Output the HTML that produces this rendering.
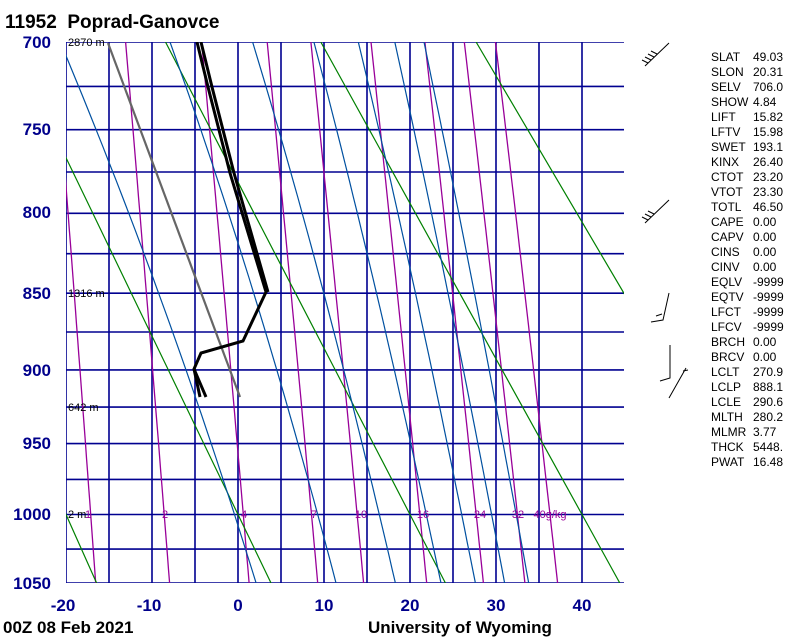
<!DOCTYPE html>
<html><head><meta charset="utf-8"><style>
html,body{margin:0;padding:0;background:#fff;}
svg{display:block;font-family:"Liberation Sans",Arial,sans-serif;}
</style></head><body>
<svg id="s" width="800" height="640" viewBox="0 0 800 640" xmlns="http://www.w3.org/2000/svg">
<defs><clipPath id="c"><rect x="66" y="42" width="558" height="541"/></clipPath></defs>
<g id="grid" clip-path="url(#c)"></g>
<g id="lines" clip-path="url(#c)"></g>
<text x="5" y="28" font-size="19" font-weight="bold" fill="#000">11952&#160;&#160;Poprad-Ganovce</text>
<g font-size="17" font-weight="bold" fill="#00008b" text-anchor="end">
<text x="51" y="48">700</text><text x="51" y="135">750</text><text x="51" y="218">800</text><text x="51" y="299">850</text>
<text x="51" y="376">900</text><text x="51" y="449">950</text><text x="51" y="520">1000</text><text x="51" y="589">1050</text>
</g>
<g font-size="17" font-weight="bold" fill="#00008b" text-anchor="middle">
<text x="63" y="611">-20</text><text x="149" y="611">-10</text><text x="238" y="611">0</text><text x="324" y="611">10</text>
<text x="410" y="611">20</text><text x="496" y="611">30</text><text x="582" y="611">40</text>
</g>
<text x="3" y="633" font-size="17" font-weight="bold" fill="#000">00Z 08 Feb 2021</text>
<text x="368" y="633" font-size="17" font-weight="bold" fill="#000">University of Wyoming</text>
<g font-size="11" fill="#000">
<text x="68" y="46">2870 m</text><text x="68" y="297">1316 m</text><text x="68" y="411">642 m</text><text x="68" y="518">2 m</text>
</g>
<g font-size="11" fill="#990099" text-anchor="middle">
<text x="88" y="518">1</text><text x="165" y="518">2</text><text x="244" y="518">4</text><text x="314" y="518">7</text>
<text x="361" y="518">10</text><text x="423" y="518">16</text><text x="480" y="518">24</text><text x="518" y="518">32</text>
<text x="550" y="518">40g/kg</text>
</g>
<g stroke="#000" stroke-width="1" fill="none">
<path d="M669,43 L645,66 M648,63 L642,60 M651,60 L645,57 M654,57 L648,54 M657,54 L651,51"/>
<path d="M669,200 L645,223 M648,220 L642,217 M651,217 L645,214 M654,214 L648,211"/>
<path d="M669,293 L663,320 L651,322 M662,314 L656,316"/>
<path d="M670,345 L670,378 L660,381 M686,368 L669,398 M683,371 L688,370"/>
</g>
<g id="stats" font-size="12" fill="#000"></g>
</svg>
<script>
(function(){
var NS="http://www.w3.org/2000/svg",k=0.286;
function X(T){return 238+8.6*T;}
var a=Math.pow(700,k),b=Math.pow(1050,k);
function Y(p){return 42+541*(Math.pow(p,k)-a)/(b-a);}
function add(g,d,col,w){var e=document.createElementNS(NS,"path");e.setAttribute("d",d);e.setAttribute("stroke",col);e.setAttribute("stroke-width",w);e.setAttribute("fill","none");document.getElementById(g).appendChild(e);}
var d="";
for(var T=-20;T<=45;T+=5){d+="M"+X(T)+",42 L"+X(T)+",583 ";}
for(var p=700;p<=1050;p+=25){d+="M66,"+Y(p).toFixed(1)+" L624,"+Y(p).toFixed(1)+" ";}
add("grid",d,"#000090",1.6);
[1,2,4,7,10,16,24,32,40].forEach(function(w){var s="";for(var p=700;p<=1050;p+=10){var e=w/1000*p/(0.622+w/1000);var l=Math.log(e/6.112);var td=243.5*l/(17.67-l);s+=(p==700?"M":"L")+X(td).toFixed(1)+","+Y(p).toFixed(1)+" ";}add("lines",s,"#990099",1.3);});
[253.15,273.15,293.15,313.15,333.15].forEach(function(th){var s="";for(var p=700;p<=1050;p+=50){var t=th*Math.pow(p/1000,k)-273.15;s+=(p==700?"M":"L")+X(t).toFixed(1)+","+Y(p).toFixed(1)+" ";}add("lines",s,"#008000",1.2);});
function es(tc){return 6.112*Math.exp(17.67*tc/(tc+243.5));}
[2.1,11.4,18.3,23.6,27.6,31.0,33.8].forEach(function(t0){var T=t0+273.15,s="M"+X(t0).toFixed(1)+",583 ";for(var p=1050;p>=700;p-=1){var e=es(T-273.15),rs=0.622*e/(p-e);var dT=(287*T+2.5e6*rs)/(p*(1004+2.5e6*2.5e6*rs*0.622/(287*T*T)));T-=dT;if((p-1)%10==0)s+="L"+X(T-273.15).toFixed(1)+","+Y(p-1).toFixed(1)+" ";}add("lines",s,"#0050a0",1.2);});
add("lines","M108,43 L240,397","#666",2.2);
add("lines","M197,42 L208,87 L230,173 L266,292 L243,341 L201,353 L194,369 L200,397","#000",3);
add("lines","M201,42 L212,87 L234,173 L268,292 M194,369 L206,397","#000",3);
var st=[["SLAT","49.03"],["SLON","20.31"],["SELV","706.0"],["SHOW","4.84"],["LIFT","15.82"],["LFTV","15.98"],["SWET","193.1"],["KINX","26.40"],["CTOT","23.20"],["VTOT","23.30"],["TOTL","46.50"],["CAPE","0.00"],["CAPV","0.00"],["CINS","0.00"],["CINV","0.00"],["EQLV","-9999"],["EQTV","-9999"],["LFCT","-9999"],["LFCV","-9999"],["BRCH","0.00"],["BRCV","0.00"],["LCLT","270.9"],["LCLP","888.1"],["LCLE","290.6"],["MLTH","280.2"],["MLMR","3.77"],["THCK","5448."],["PWAT","16.48"]];
var g=document.getElementById("stats");
st.forEach(function(r,i){var y=61+15*i;[[711,r[0]],[753,r[1]]].forEach(function(c){var t=document.createElementNS(NS,"text");t.setAttribute("x",c[0]);t.setAttribute("y",y);t.textContent=c[1];g.appendChild(t);});});
})();
</script>
</body></html>
